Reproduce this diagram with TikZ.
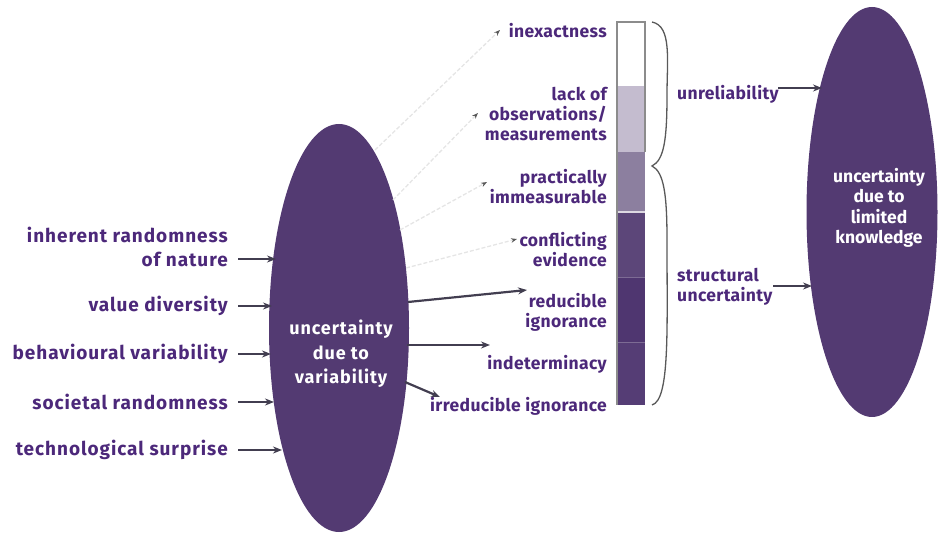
\documentclass[tikz,border=0pt]{standalone}
\usepackage{fontspec}
\setmainfont{Fira Sans}
\newfontfamily\widefont{Fira Sans}[LetterSpace=5.0]
\newfontfamily\midfont{Fira Sans}[LetterSpace=2.0]
\usetikzlibrary{arrows.meta,shapes.geometric}

\definecolor{plum}{RGB}{83,58,114}
\definecolor{labelc}{RGB}{76,40,122}
\definecolor{arrowc}{RGB}{66,62,80}
\definecolor{barA}{RGB}{255,255,255}
\definecolor{barB}{RGB}{196,188,207}
\definecolor{barC}{RGB}{140,127,159}
\definecolor{barD}{RGB}{92,70,121}
\definecolor{barE}{RGB}{79,54,112}
\definecolor{barF}{RGB}{85,61,117}

\tikzset{
  blob/.style={ellipse, fill=plum, draw=none, inner sep=0pt},
  intext/.style={text=white, font=\widefont\fontsize{18}{24.5}\selectfont\bfseries, align=center, inner sep=0pt},
  intextR/.style={text=white, font=\fontsize{17.5}{20.5}\selectfont\bfseries, align=center, inner sep=0pt},
  lab/.style={text=labelc, font=\midfont\fontsize{17.5}{20}\selectfont\bfseries, inner sep=0pt},
  labR/.style={lab, anchor=east, align=right},
  labL/.style={lab, anchor=west, align=left},
  srclab/.style={labR, font=\widefont\fontsize{19}{24}\selectfont\bfseries},
  arr/.style={draw=arrowc, line width=2.2pt, -{Stealth[length=9pt,width=7pt]}},
  faint/.style={draw=black!10, line width=1.3pt, dash pattern=on 4pt off 2pt,
    -{Stealth[length=6pt,width=4.5pt,color=black!65]}},
  seg/.style={draw=none},
  brace/.style={draw=black!65, line width=1.3pt},
}

\begin{document}
\begin{tikzpicture}[x=1pt,y=-1pt]
\useasboundingbox (0,0) rectangle (938,537);

% the two ellipses
\node[blob, minimum width=140pt, minimum height=408pt] (lv) at (339,328) {};
\node[intext] (lvt) at (341,354) {uncertainty\\due to\\variability};
\node[blob, minimum width=131pt, minimum height=410pt] (lk) at (872,212) {};
\node[intextR] (lkt) at (879,208) {uncertainty\\due to\\limited\\knowledge};

% sources of variability
\node[srclab] (s1) at (228,247) {inherent randomness\\of nature};
\node[srclab] (s2) at (228,306) {value diversity};
\node[srclab] (s3) at (228,354) {behavioural variability};
\node[srclab] (s4) at (228,402) {societal randomness};
\node[srclab] (s5) at (228,450) {technological surprise};

\coordinate (a1) at (238,259); \coordinate (b1) at (276,259);
\coordinate (a2) at (238,306); \coordinate (b2) at (272,306);
\coordinate (a3) at (238,354); \coordinate (b3) at (271,354);
\coordinate (a4) at (238,402); \coordinate (b4) at (274,402);
\coordinate (a5) at (238,450); \coordinate (b5) at (282,450);
\foreach \i in {1,...,5} \draw[arr] (a\i) -- (b\i);

% graded bar
\path[seg, fill=barA] (617,22)  rectangle (645,86);
\path[seg, fill=barB] (617,86)  rectangle (645,152);
\path[seg, fill=barC] (617,152) rectangle (645,212);
\path[seg, fill=barD] (617,212) rectangle (645,277);
\path[seg, fill=barE] (617,277) rectangle (645,342);
\path[seg, fill=barF] (617,342) rectangle (645,405);
\draw[white!70!barC, line width=1.2pt] (617,212) -- (645,212);
\draw[barD!80!white, line width=0.8pt] (617,277) -- (645,277) (617,342) -- (645,342);
\draw[black!45, line width=1.3pt] (617,405) -- (617,22) -- (645,22) -- (645,152);

% brace grouping the bar
\draw[brace] (652,22) .. controls (672,26) and (667,60) .. (667,95)
  .. controls (667,140) and (664,160) .. (652,166)
  .. controls (664,172) and (667,195) .. (667,240)
  .. controls (667,330) and (670,400) .. (652,405);

% types of uncertainty along the bar
\node[labR] (m1) at (607,31)  {inexactness};
\node[labR] (m2) at (607,114) {lack of\\observations/\\measurements};
\node[labR] (m3) at (607,187) {practically\\immeasurable};
\node[labR] (m4) at (607,250) {conflicting\\evidence};
\node[labR] (m5) at (607,312) {reducible\\ignorance};
\node[labR] (m6) at (607,364) {indeterminacy};
\node[labR] (m7) at (607,406) {irreducible ignorance};

% faint links from variability
\coordinate (f1) at (375,150); \coordinate (g1) at (500,30);
\coordinate (f2) at (393,200); \coordinate (g2) at (478,113);
\coordinate (f3) at (400,230); \coordinate (g3) at (487,182);
\coordinate (f4) at (406,268); \coordinate (g4) at (517,239);
\foreach \i in {1,...,4} \draw[faint] (f\i) -- (g\i);

% solid links from variability
\coordinate (h1) at (408,302); \coordinate (k1) at (527,290);
\coordinate (h2) at (407,345); \coordinate (k2) at (490,345);
\coordinate (h3) at (405,382); \coordinate (k3) at (440,397);
\foreach \i in {1,2,3} \draw[arr] (h\i) -- (k\i);

% groups feeding limited knowledge
\node[labL] (r1) at (677,94)  {unreliability};
\node[labL] (r2) at (677,287) {structural\\uncertainty};
\coordinate (c1) at (778,88);  \coordinate (d1) at (822,88);
\coordinate (c2) at (773,286); \coordinate (d2) at (812,286);
\draw[arr] (c1) -- (d1);
\draw[arr] (c2) -- (d2);
\end{tikzpicture}
\end{document}
